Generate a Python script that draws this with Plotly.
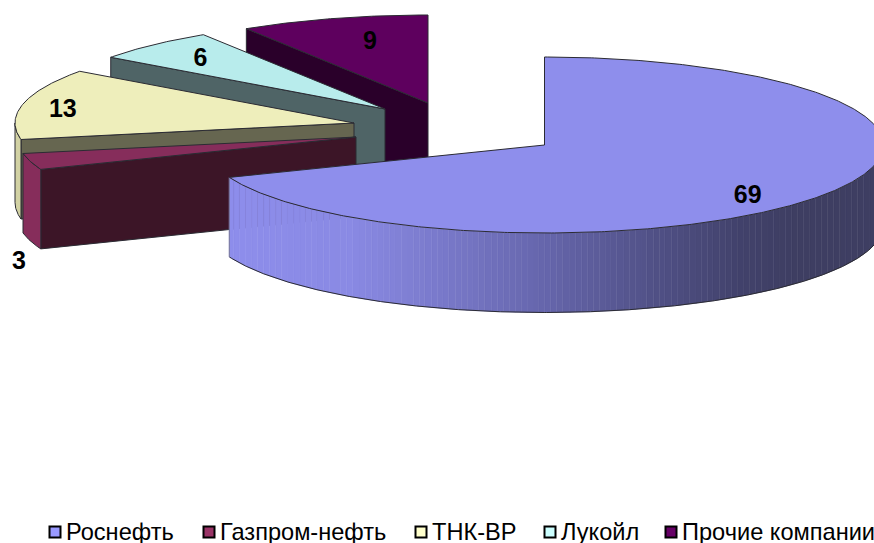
import numpy as np
import plotly.graph_objects as go

# ---- data ----
companies = ["Роснефть", "Газпром-нефть", "ТНК-ВР", "Лукойл", "Прочие компании"]
shares = [69, 3, 13, 6, 9]

# ---- style / layout (pixel frame of the picture) ----
W, H = 874, 543
RX, RY, DEPTH = 339, 88, 79.5
BAND = 6
explode_centres = [(544.5, 145), (356, 137), (354, 123), (385, 109), (428, 103)]
top_colours = ["#8E8EEC", "#862D5B", "#EEEEBB", "#B8ECEC", "#5E005E"]
face_colours = ["#8E8EEC", "#3C1527", "#666650", "#4F6466", "#2A002A"]
rim_colours = ["#8E8EEC", "#862D5B", "#D2D2A4", "#B8ECEC", "#5E005E"]
legend_fill = ["#9999FF", "#993366", "#FFFFCC", "#CCFFFF", "#660066"]
legend_x = [55, 209, 421, 550, 671]
label_frac = [(.725, 1.05), (1.035, 5.12), (.88, .626), (.795, .764), (.615, .71)]
EDGE = "#2b2b33"
GRAD = [(229, (142, 142, 236)), (350, (138, 138, 228)), (450, (120, 120, 200)),
        (545, (102, 102, 172)), (650, (82, 82, 136)), (740, (66, 66, 108)), (800, (62, 62, 98)), (880, (62, 62, 98))]

fig = go.Figure()


def poly(xs, ys, fill, line=EDGE, lw=1):
    fig.add_trace(go.Scatter(x=list(xs), y=list(ys), mode="lines", fill="toself", fillcolor=fill,
                             line=dict(color=line, width=lw), hoverinfo="skip", showlegend=False))


def rim(c, a):
    a = np.radians(a)
    return c[0] + RX * np.sin(a), c[1] - RY * np.cos(a)


def grad(x):
    xp = [g[0] for g in GRAD]
    return "rgb(%d,%d,%d)" % tuple(np.interp(x, xp, [g[1][i] for g in GRAD]) for i in range(3))


edges = np.cumsum([0] + shares) / sum(shares) * 360
order = [4, 3, 2, 1, 0]
for i in order:
    a0, a1 = edges[i], edges[i + 1]
    c = explode_centres[i]
    angs = np.linspace(a0, a1, max(int(a1 - a0) * 2, 2) + 1)
    rx, ry = rim(c, angs)
    lo, hi = max(a0, 90), min(a1, 270)
    sx, sy = rim(c, a0)
    if i != 0:
        poly([sx, c[0], c[0], sx, sx], [sy, c[1], c[1] + DEPTH, sy + DEPTH, sy], face_colours[i])
    if hi > lo:
        w = np.linspace(lo, hi, int((hi - lo) * 4) + 2)
        wx, wy = rim(c, w)
        if i == 0:
            bands = np.floor(wx / BAND).astype(int)
            for b in sorted(set(bands), reverse=True):
                idx = np.where(bands == b)[0]
                j0, j1 = idx[0], min(idx[-1] + 1, len(w) - 1)
                bx, by = wx[j0:j1 + 1], wy[j0:j1 + 1]
                col = grad(bx.mean())
                poly(list(bx) + list(bx[::-1]) + [bx[0]], list(by) + list(by[::-1] + DEPTH) + [by[0]], col, col, 0.5)
            fig.add_trace(go.Scatter(x=list(wx), y=list(wy + DEPTH), mode="lines",
                                     line=dict(color=EDGE, width=1), hoverinfo="skip", showlegend=False))
            fig.add_trace(go.Scatter(x=[wx[-1], wx[-1]], y=[wy[-1], wy[-1] + DEPTH], mode="lines",
                                     line=dict(color="#777799", width=1), hoverinfo="skip", showlegend=False))
        else:
            poly(list(wx) + list(wx[::-1]) + [wx[0]], list(wy) + list(wy[::-1] + DEPTH) + [wy[0]], rim_colours[i])
    poly([c[0]] + list(rx) + [c[0]], [c[1]] + list(ry) + [c[1]], top_colours[i], EDGE, 1)

# data labels
for i in range(5):
    mid = (edges[i] + edges[i + 1]) / 2
    c = explode_centres[i]
    fx, fy = label_frac[i]
    m = np.radians(mid)
    fig.add_trace(go.Scatter(x=[c[0] + fx * RX * np.sin(m)], y=[c[1] - fy * RY * np.cos(m)], mode="text",
                             text=[str(shares[i])], textposition="middle center",
                             textfont=dict(family="Liberation Sans", size=25, color="black", weight="bold"),
                             hoverinfo="skip", showlegend=False, cliponaxis=False))

# legend
for i in range(5):
    fig.add_trace(go.Scatter(x=[legend_x[i]], y=[532], mode="markers",
                             marker=dict(symbol="square", size=11, color=legend_fill[i],
                                         line=dict(color="black", width=2)),
                             hoverinfo="skip", showlegend=False, cliponaxis=False))
    fig.add_annotation(x=legend_x[i] + 9, y=532, text=companies[i], showarrow=False, xanchor="left",
                       yanchor="middle", font=dict(family="Liberation Sans", size=23.6, color="black"))

fig.update_xaxes(range=[0, W], visible=False, fixedrange=True)
fig.update_yaxes(range=[H, 0], visible=False, fixedrange=True)
fig.update_layout(width=W, height=H, margin=dict(l=0, r=0, t=0, b=0), paper_bgcolor="white",
                  plot_bgcolor="white", showlegend=False)
fig.write_html("out.html", config=dict(displayModeBar=False),
               post_script="document.body.style.margin='0';document.body.style.overflow='hidden';")
